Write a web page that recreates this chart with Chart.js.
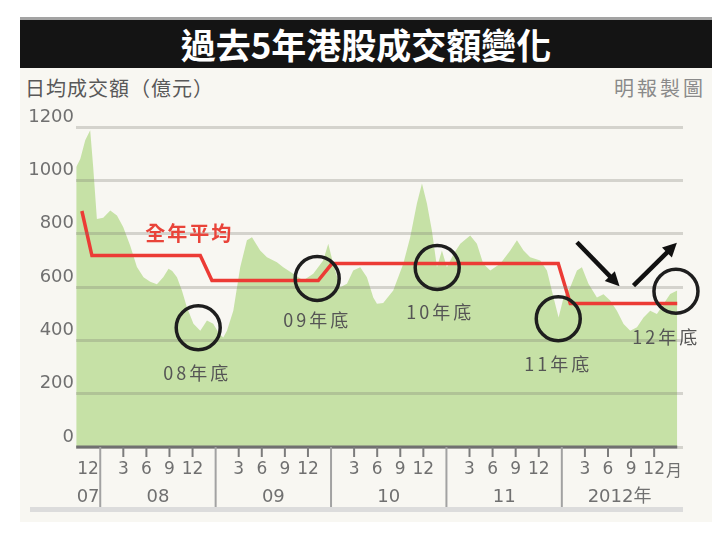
<!DOCTYPE html>
<html>
<head>
<meta charset="utf-8">
<script src="https://cdn.jsdelivr.net/npm/chart.js@4.4.1/dist/chart.umd.min.js"></script>
<style>
    body { margin: 0; background: #fff; }
    #wrap { position: relative; width: 725px; height: 540px; overflow: hidden; }
    #panel { position: absolute; left: 20px; top: 17px; width: 692px; height: 505px; background: #f8f7f2; }
    #titleBar {
        position: absolute; left: 20px; top: 17px; width: 692px; height: 48px;
        border-top: 3px solid #a3a3a3; background: #141414; color: #fff;
        font: bold 35px "Noto Sans CJK TC", sans-serif; line-height: 48px; text-align: center;
    }
    #unit { position: absolute; left: 25px; top: 76px; font: 20px "Noto Sans CJK TC", sans-serif; letter-spacing: 1px; color: #585858; line-height: 24px; }
    #source { position: absolute; right: 19px; top: 76px; font: 20px "Noto Sans CJK TC", sans-serif; letter-spacing: 3px; color: #8a8a8a; line-height: 24px; }
    #footBar { position: absolute; left: 30px; top: 507px; width: 653px; height: 5px; background: #dcdcdc; }
    canvas { position: absolute; left: 0; top: 0; }
</style>
</head>
<body>
<div id="wrap">
    <div id="panel"></div>
    <div id="titleBar">過去5年港股成交額變化</div>
    <div id="unit">日均成交額（億元）</div>
    <div id="source">明報製圖</div>
    <div id="footBar"></div>
    <canvas id="grafica" width="725" height="540"></canvas>
</div>
<script>
"use strict";
/*    DATOS (años decimales, valores en 億元) */
const areaYears = [
    2007.792, 2007.827, 2007.870, 2007.913, 2007.939, 2007.971, 2008.026, 2008.087, 2008.145, 2008.199,
    2008.260, 2008.318, 2008.375, 2008.433, 2008.491, 2008.546, 2008.592, 2008.624, 2008.665, 2008.708,
    2008.751, 2008.808, 2008.867, 2008.925, 2008.979, 2009.031, 2009.066, 2009.098, 2009.153, 2009.213,
    2009.271, 2009.315, 2009.386, 2009.445, 2009.531, 2009.586, 2009.672, 2009.759, 2009.846, 2009.932,
    2009.976, 2010.019, 2010.080, 2010.138, 2010.192, 2010.253, 2010.311, 2010.366, 2010.398, 2010.452,
    2010.539, 2010.626, 2010.686, 2010.744, 2010.788, 2010.831, 2010.874, 2010.918, 2010.961, 2011.004,
    2011.062, 2011.120, 2011.206, 2011.264, 2011.319, 2011.380, 2011.466, 2011.553, 2011.611, 2011.668,
    2011.726, 2011.813, 2011.871, 2011.928, 2011.972, 2012.015, 2012.073, 2012.131, 2012.174, 2012.231,
    2012.304, 2012.361, 2012.419, 2012.477, 2012.535, 2012.593, 2012.651, 2012.708, 2012.766, 2012.824,
    2012.881, 2012.939, 2013.000
];
const areaValues = [
    1050, 1080, 1150, 1188, 1050, 855, 860, 887, 868, 825,
    755, 675, 637, 620, 610, 637, 668, 660, 637, 587,
    524, 462, 436, 474, 462, 425, 411, 436, 511, 674,
    775, 787, 737, 712, 693, 674, 650, 624, 650, 699,
    762, 687, 599, 612, 662, 674, 637, 561, 537, 540,
    587, 687, 787, 913, 988, 913, 812, 674, 737, 674,
    724, 762, 793, 762, 687, 662, 687, 737, 775, 737,
    712, 699, 662, 561, 486, 561, 599, 662, 674, 612,
    561, 573, 549, 511, 461, 436, 449, 486, 511, 499,
    536, 574, 587
];
/* 全年平均 */
const avgYears = [2007.841, 2007.928, 2008.867, 2008.968, 2009.889, 2010.008, 2011.969, 2012.073, 2013.000];
const avgValues = [885, 718, 718, 624, 624, 688, 688, 538, 538];

/* EJES */
const yTicks = [0, 200, 400, 600, 800, 1000, 1200];
const yearStarts = [2008, 2009, 2010, 2011, 2012];
const yearLabels = ["08", "09", "10", "11", "2012年"];
const quarterLabels = ["3", "6", "9", "12"];
const firstMonthLabel = "12";
const firstYearLabel = "07";
const monthUnit = "月";

/* ANOTACIONES */
const circles = [
    { x: 2008.849, y: 447 }, { x: 2009.880, y: 632 }, { x: 2010.920, y: 673 },
    { x: 2011.969, y: 481 }, { x: 2012.989, y: 584 }
];
const notes = [
    { text: "08年底", x: 2008.840, y: 278 }, { text: "09年底", x: 2009.880, y: 474 },
    { text: "10年底", x: 2010.946, y: 504 }, { text: "11年底", x: 2011.969, y: 312 },
    { text: "12年底", x: 2012.905, y: 411 }
];
const arrows = [
    { x1: 2012.131, y1: 768, x2: 2012.500, y2: 603 },
    { x1: 2012.621, y1: 605, x2: 2012.997, y2: 766 }
];

function linea(ctx, x1, y1, x2, y2) {
    ctx.beginPath();
    ctx.moveTo(x1, y1);
    ctx.lineTo(x2, y2);
    ctx.stroke();
}

const decoracion = {
    id: "decoracion",
    afterDraw(chart) {
        const { ctx, scales: { x, y } } = chart;
        const base = y.getPixelForValue(0);
        ctx.save();
        /* línea base */
        ctx.strokeStyle = "#707070";
        ctx.lineWidth = 3;
        linea(ctx, x.getPixelForValue(areaYears[0]), base, x.getPixelForValue(areaYears[areaYears.length - 1]), base);
        /* eje x */
        ctx.textAlign = "center";
        ctx.textBaseline = "middle";
        ctx.fillStyle = "#707070";
        ctx.lineWidth = 2;
        const firstPx = x.getPixelForValue((x.min + yearStarts[0]) / 2);
        ctx.font = '17px "DejaVu Sans"';
        ctx.fillText(firstMonthLabel, firstPx, base + 23);
        ctx.font = '18px "DejaVu Sans"';
        ctx.fillText(firstYearLabel, firstPx, base + 50);
        yearStarts.forEach((yr, i) => {
            const px = x.getPixelForValue(yr);
            ctx.strokeStyle = "#a2a2a2";
            linea(ctx, px, base, px, base + 60);
            quarterLabels.forEach((lab, k) => {
                const qx = x.getPixelForValue(yr + (k + 1) / 5);
                ctx.strokeStyle = "#7c7c7c";
                linea(ctx, qx, base, qx, base + 10);
                ctx.font = '17px "DejaVu Sans"';
                ctx.fillText(lab, qx, base + 23);
                if (i === yearStarts.length - 1 && k === quarterLabels.length - 1) {
                    const w = ctx.measureText(lab).width;
                    ctx.textAlign = "left";
                    ctx.font = '16px "Noto Sans CJK TC"';
                    ctx.fillText(monthUnit, qx + w / 2 + 1, base + 23);
                    ctx.textAlign = "center";
                }
            });
            ctx.font = i === yearStarts.length - 1 ? '18px "DejaVu Sans", "Noto Sans CJK TC"' : '18px "DejaVu Sans"';
            ctx.fillText(yearLabels[i], x.getPixelForValue(yr + 0.5), base + 50);
        });
        /* 全年平均 */
        ctx.fillStyle = "#e9443a";
        ctx.font = 'bold 20px "Noto Sans CJK TC"';
        ctx.letterSpacing = "2px";
        ctx.fillText("全年平均", x.getPixelForValue(2008.771), y.getPixelForValue(801));
        /* círculos */
        ctx.strokeStyle = "#1e1e1e";
        ctx.lineWidth = 3.5;
        circles.forEach(c => {
            ctx.beginPath();
            ctx.arc(x.getPixelForValue(c.x), y.getPixelForValue(c.y), 22, 0, Math.PI * 2);
            ctx.stroke();
        });
        /* notas */
        ctx.fillStyle = "#555";
        ctx.font = '18px "Noto Sans CJK TC"';
        ctx.letterSpacing = "3px";
        notes.forEach(n => ctx.fillText(n.text, x.getPixelForValue(n.x), y.getPixelForValue(n.y)));
        ctx.letterSpacing = "0px";
        /* flechas */
        ctx.strokeStyle = "#111";
        ctx.fillStyle = "#111";
        ctx.lineWidth = 4.5;
        arrows.forEach(a => {
            const sx = x.getPixelForValue(a.x1), sy = y.getPixelForValue(a.y1);
            const ex = x.getPixelForValue(a.x2), ey = y.getPixelForValue(a.y2);
            const ang = Math.atan2(ey - sy, ex - sx);
            const head = 14;
            linea(ctx, sx, sy, ex - Math.cos(ang) * head * 0.8, ey - Math.sin(ang) * head * 0.8);
            ctx.beginPath();
            ctx.moveTo(ex, ey);
            ctx.lineTo(ex - head * Math.cos(ang) + 7 * Math.sin(ang), ey - head * Math.sin(ang) - 7 * Math.cos(ang));
            ctx.lineTo(ex - head * Math.cos(ang) - 7 * Math.sin(ang), ey - head * Math.sin(ang) + 7 * Math.cos(ang));
            ctx.closePath();
            ctx.fill();
        });
        ctx.restore();
    }
};

/* GRÁFICA */
function inicializarGrafica() {
    const canvas = document.getElementById("grafica");
    new Chart(canvas, {
        type: "line",
        data: {
            datasets: [
                {
                    label: "全年平均",
                    data: avgYears.map((yr, i) => ({ x: yr, y: avgValues[i] })),
                    borderColor: "#ec3b35",
                    borderWidth: 3.5,
                    pointRadius: 0,
                    fill: false,
                    tension: 0,
                    order: 0
                },
                {
                    label: "日均成交額",
                    data: areaYears.map((yr, i) => ({ x: yr, y: areaValues[i] })),
                    borderWidth: 0,
                    backgroundColor: "#c6e1a6",
                    fill: "origin",
                    pointRadius: 0,
                    tension: 0,
                    order: 1
                }
            ]
        },
        options: {
            responsive: false,
            animation: false,
            layout: { padding: { left: 26, top: 127, right: 42, bottom: 93 } },
            plugins: { legend: { display: false }, tooltip: { enabled: false } },
            scales: {
                x: { type: "linear", display: false, min: 2007.79, max: 2013.05 },
                y: {
                    min: 0,
                    max: 1200,
                    afterBuildTicks: scale => { scale.ticks = yTicks.map(v => ({ value: v })); },
                    afterFit: scale => { scale.width = 50; },
                    ticks: {
                        padding: 2,
                        labelOffset: -10,
                        color: "#707070",
                        font: { family: "DejaVu Sans", size: 18 },
                        callback: v => String(v)
                    },
                    grid: { color: "rgba(120,120,110,0.28)", lineWidth: 3, drawTicks: false, z: 1 },
                    border: { display: false }
                }
            }
        },
        plugins: [decoracion]
    });
}

document.addEventListener("DOMContentLoaded", inicializarGrafica);
</script>
</body>
</html>
